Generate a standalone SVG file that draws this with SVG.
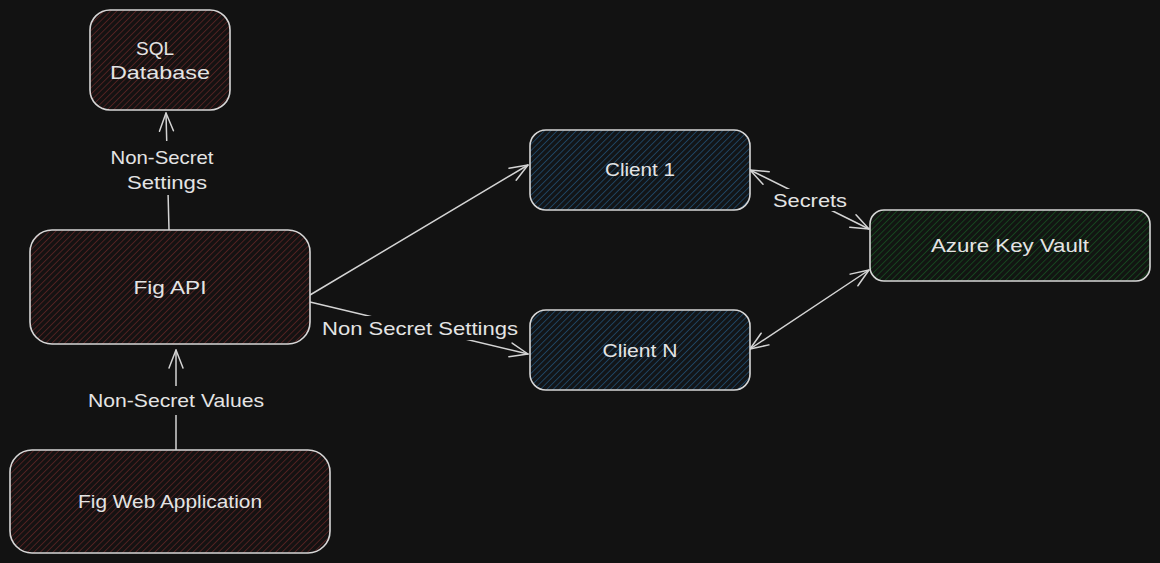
<svg xmlns="http://www.w3.org/2000/svg" width="1160" height="563" viewBox="0 0 1160 563">
<style>
.box{stroke:#d6d6d6;stroke-width:1.6;}
.lbl{font-family:"Liberation Sans","Open Sans",sans-serif;font-size:19px;fill:#e4e4e4;text-anchor:middle;}
.conn{fill:none;stroke:#d4d4d4;stroke-width:1.5;stroke-linecap:round;}
.mask{fill:#121212;}
</style>
<defs>
<pattern id="hRed" patternUnits="userSpaceOnUse" width="4.5" height="4.5" patternTransform="rotate(45)">
<rect width="4.5" height="4.5" fill="#151212"/>
<line x1="0" y1="0" x2="0" y2="4.5" stroke="#642626" stroke-width="1.4"/>
</pattern>
<pattern id="hBlue" patternUnits="userSpaceOnUse" width="4.5" height="4.5" patternTransform="rotate(45)">
<rect width="4.5" height="4.5" fill="#121518"/>
<line x1="0" y1="0" x2="0" y2="4.5" stroke="#225379" stroke-width="1.4"/>
</pattern>
<pattern id="hGreen" patternUnits="userSpaceOnUse" width="4.5" height="4.5" patternTransform="rotate(45)">
<rect width="4.5" height="4.5" fill="#121512"/>
<line x1="0" y1="0" x2="0" y2="4.5" stroke="#175422" stroke-width="1.4"/>
</pattern>
<marker id="ah" viewBox="-20 -9 22 18" refX="0" refY="0" markerWidth="22" markerHeight="18" markerUnits="userSpaceOnUse" orient="auto-start-reverse">
<path d="M-18,-7 L0,0 L-18,7" fill="none" stroke="#d4d4d4" stroke-width="1.5" stroke-linecap="round" stroke-linejoin="round"/>
</marker>
</defs>
<rect width="1160" height="563" fill="#121212"/>

<g id="connectors">
<path class="conn" d="M169,230 L166,113" marker-end="url(#ah)"/>
<path class="conn" d="M176,450 L176,350" marker-end="url(#ah)"/>
<path class="conn" d="M310,295 L528,165" marker-end="url(#ah)"/>
<path class="conn" d="M310,302 L528,354" marker-end="url(#ah)"/>
<path class="conn" d="M750,170 L869,229" marker-start="url(#ah)" marker-end="url(#ah)"/>
<path class="conn" d="M869,270 L750,349" marker-start="url(#ah)" marker-end="url(#ah)"/>
<rect class="mask" x="105" y="141" width="114" height="54"/>
<rect class="mask" x="84" y="386" width="184" height="29"/>
<rect class="mask" x="322" y="316" width="196" height="24"/>
<rect class="mask" x="770" y="189" width="80" height="22"/>
<text class="lbl" x="162" y="164" textLength="103" lengthAdjust="spacingAndGlyphs">Non-Secret</text>
<text class="lbl" x="167" y="189" textLength="80" lengthAdjust="spacingAndGlyphs">Settings</text>
<text class="lbl" x="176" y="407" textLength="176" lengthAdjust="spacingAndGlyphs">Non-Secret Values</text>
<text class="lbl" x="420" y="335" textLength="196" lengthAdjust="spacingAndGlyphs">Non Secret Settings</text>
<text class="lbl" x="810" y="207" textLength="74" lengthAdjust="spacingAndGlyphs">Secrets</text>
</g>

<g id="sql-database">
<rect class="box" x="90" y="10" width="140" height="100" rx="20" fill="url(#hRed)"/>
<text class="lbl" x="155" y="55">SQL</text>
<text class="lbl" x="160" y="79" textLength="100" lengthAdjust="spacingAndGlyphs">Database</text>
</g>

<g id="fig-api">
<rect class="box" x="30" y="230" width="280" height="114" rx="22" fill="url(#hRed)"/>
<text class="lbl" x="170" y="294" textLength="73" lengthAdjust="spacingAndGlyphs">Fig API</text>
</g>

<g id="fig-web-application">
<rect class="box" x="10" y="450" width="320" height="103" rx="22" fill="url(#hRed)"/>
<text class="lbl" x="170" y="508" textLength="184" lengthAdjust="spacingAndGlyphs">Fig Web Application</text>
</g>

<g id="client-1">
<rect class="box" x="530" y="130" width="220" height="80" rx="16" fill="url(#hBlue)"/>
<text class="lbl" x="640" y="176" textLength="70" lengthAdjust="spacingAndGlyphs">Client 1</text>
</g>

<g id="client-n">
<rect class="box" x="530" y="310" width="220" height="80" rx="16" fill="url(#hBlue)"/>
<text class="lbl" x="640" y="357" textLength="75" lengthAdjust="spacingAndGlyphs">Client N</text>
</g>

<g id="azure-key-vault">
<rect class="box" x="870" y="210" width="280" height="71" rx="14" fill="url(#hGreen)"/>
<text class="lbl" x="1010" y="252" textLength="158" lengthAdjust="spacingAndGlyphs">Azure Key Vault</text>
</g>
</svg>
